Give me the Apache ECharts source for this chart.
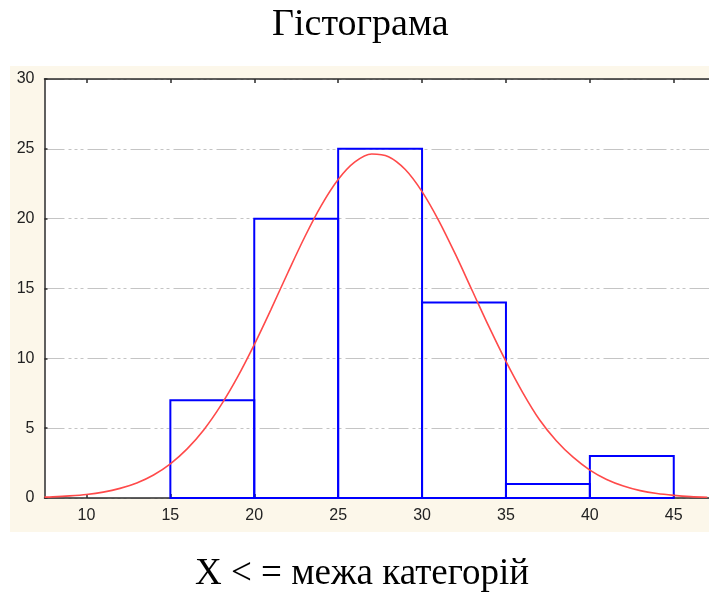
<!DOCTYPE html>
<html>
<head>
<meta charset="utf-8">
<script src="https://cdn.jsdelivr.net/npm/echarts@6/dist/echarts.min.js"></script>
<style>
  html, body { margin: 0; padding: 0; background: #ffffff; }
  #chart { width: 709px; height: 595px; }
</style>
</head>
<body>
<div id="chart"></div>
<script>
// Histogram bins: class boundaries and frequencies
const binEdges = [15, 20, 25, 30, 35, 40, 45];
const counts = [7, 20, 25, 14, 1, 3];

// Fitted normal curve, sampled along the x axis
const curveX = [7.5, 8, 9, 10, 11, 12, 13, 14, 15, 16, 17, 18, 19, 20, 21, 22, 23, 24, 25, 26, 27,
                28, 29, 30, 31, 32, 33, 34, 35, 36, 37, 38, 39, 40, 41, 42, 43, 44, 45, 46, 47];
const curveY = [0.06, 0.08, 0.15, 0.25, 0.42, 0.69, 1.08, 1.65, 2.45, 3.52, 4.89, 6.61, 8.65, 10.98,
                13.51, 16.13, 18.67, 20.95, 22.80, 24.06, 24.63, 24.44, 23.52, 21.94, 19.85, 17.42,
                14.82, 12.23, 9.78, 7.55, 5.6, 4.1, 2.92, 2.0, 1.33, 0.86, 0.53, 0.32, 0.19, 0.1, 0.05];

// Axis ticks
const xTicks = [10, 15, 20, 25, 30, 35, 40, 45];
const yTicks = [0, 5, 10, 15, 20, 25, 30];

const bars = counts.map((c, i) => [binEdges[i], binEdges[i + 1], c]);
const curve = curveX.map((x, i) => [x, curveY[i]]);

const axisColor = '#2b2b2b';
const labelFont = { fontFamily: 'Liberation Sans, Arial, sans-serif', fontSize: 16, color: '#222222' };

const chart = echarts.init(document.getElementById('chart'), null, { renderer: 'canvas' });

chart.setOption({
  backgroundColor: '#ffffff',
  animation: false,
  graphic: [
    {
      type: 'rect', z: -10, silent: true,
      shape: { x: 10, y: 66, width: 699, height: 466 },
      style: { fill: '#fcf7ea' }
    },
    {
      type: 'text', left: 272, top: 6,
      style: {
        text: 'Гістограма',
        font: '38px "Liberation Serif", "Times New Roman", serif',
        fill: '#000000'
      }
    },
    {
      type: 'text', left: 195, top: 556,
      style: {
        text: 'X < = межа категорій',
        font: '37px "Liberation Serif", "Times New Roman", serif',
        fill: '#000000'
      }
    }
  ],
  grid: {
    left: 44.5, top: 79, width: 664.5, height: 419,
    show: true, backgroundColor: '#ffffff', borderWidth: 0
  },
  xAxis: [
    {
      type: 'value', min: 7.5, max: 47.1, position: 'bottom',
      axisLine: { show: true, onZero: false, lineStyle: { color: axisColor, width: 1.5 } },
      axisTick: { show: true, inside: true, length: 4, customValues: xTicks, lineStyle: { color: axisColor, width: 1.5 } },
      axisLabel: Object.assign({ customValues: xTicks, margin: 10 }, labelFont),
      splitLine: { show: false }
    },
    {
      type: 'value', min: 7.5, max: 47.1, position: 'top',
      axisLine: { show: true, onZero: false, lineStyle: { color: axisColor, width: 1.5 } },
      axisTick: { show: true, inside: true, length: 4, customValues: xTicks, lineStyle: { color: axisColor, width: 1.5 } },
      axisLabel: { show: false },
      splitLine: { show: false }
    }
  ],
  yAxis: {
    type: 'value', min: 0, max: 30, interval: 5,
    axisLine: { show: true, onZero: false, lineStyle: { color: axisColor, width: 1.5 } },
    axisTick: { show: true, inside: true, length: 3, lineStyle: { color: axisColor, width: 1.5 } },
    axisLabel: Object.assign({ margin: 10, customValues: yTicks }, labelFont),
    splitLine: {
      show: true,
      lineStyle: { color: '#c4c4c4', width: 1, type: [20, 4, 3, 3, 3, 3, 3, 4] }
    }
  },
  series: [
    {
      type: 'custom',
      name: 'Частота',
      xAxisIndex: 0,
      data: bars,
      z: 2,
      renderItem: function (params, api) {
        const p0 = api.coord([api.value(0), 0]);
        const p1 = api.coord([api.value(1), api.value(2)]);
        return {
          type: 'rect',
          shape: { x: p0[0], y: p1[1], width: p1[0] - p0[0], height: p0[1] - p1[1] },
          style: { fill: 'rgba(255,255,255,0)', stroke: '#0000ff', lineWidth: 2 }
        };
      }
    },
    {
      type: 'line',
      name: 'Нормальний розподіл',
      xAxisIndex: 0,
      data: curve,
      smooth: 0.3,
      showSymbol: false,
      z: 3,
      lineStyle: { color: '#ff4a4a', width: 1.6 }
    }
  ]
});
</script>
</body>
</html>
